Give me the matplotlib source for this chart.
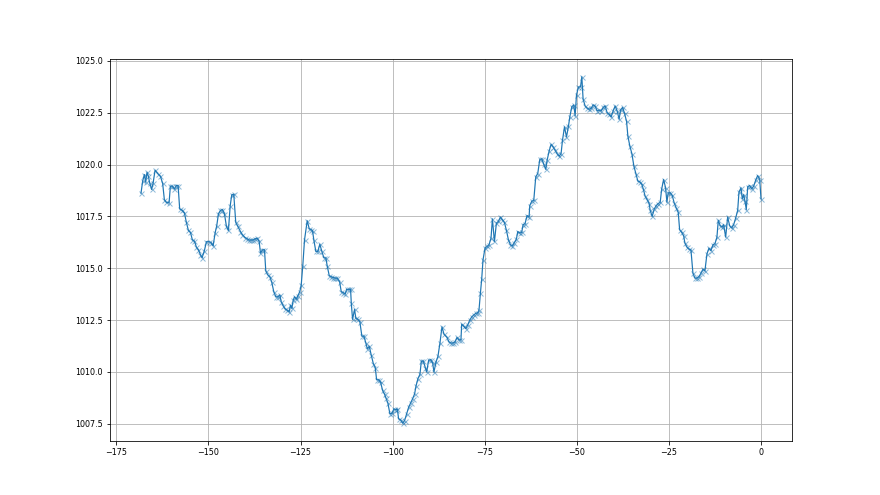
import matplotlib
matplotlib.use("Agg")
import matplotlib.pyplot as plt

hours = [
    -168.3, -167.85, -167.39, -167.04, -166.66, -166.30, -165.95, -165.41, -165.03, -164.48,
    -163.78, -163.04, -162.42, -161.96, -161.41, -160.68, -160.33, -159.78, -159.24, -158.70,
    -158.23, -157.80, -157.07, -156.52, -155.98, -155.43, -154.89, -154.35, -153.80, -153.26,
    -152.72, -152.17, -151.71, -151.09, -150.54, -149.81, -149.27, -148.72, -148.18, -147.74,
    -147.28, -146.74, -146.20, -145.65, -145.11, -144.57, -144.10, -143.67, -143.12, -142.58,
    -142.04, -141.30, -140.76, -140.03, -139.48, -138.94, -138.40, -137.85, -137.31, -136.77,
    -136.22, -135.87, -135.33, -134.78, -134.43, -133.89, -133.34, -132.80, -132.26, -131.71,
    -131.17, -130.62, -130.24, -129.70, -129.16, -128.61, -128.07, -127.72, -127.36, -126.98,
    -126.63, -126.09, -125.73, -125.19, -124.81, -124.38, -123.91, -123.18, -122.64, -122.09,
    -121.74, -121.39, -120.84, -120.30, -119.76, -119.21, -118.67, -118.12, -117.74, -117.20,
    -116.66, -116.11, -115.57, -115.03, -114.40, -113.94, -113.40, -112.85, -112.50, -111.96,
    -111.41, -111.22, -110.87, -110.33, -109.97, -109.43, -108.89, -108.34, -107.80, -107.26,
    -106.88, -106.33, -105.79, -105.24, -104.70, -104.35, -103.80, -103.26, -102.72, -102.17,
    -101.82, -101.28, -100.73, -100.19, -99.65, -99.10, -98.72, -98.37, -97.83, -97.28,
    -96.74, -96.20, -95.65, -95.11, -94.57, -94.02, -93.67, -93.13, -92.58, -92.20,
    -91.66, -91.11, -90.76, -90.22, -89.67, -89.13, -88.78, -88.23, -87.69, -87.15,
    -86.60, -86.06, -85.24, -84.70, -84.16, -83.61, -83.07, -82.53, -81.98, -81.44,
    -81.25, -80.71, -80.16, -79.62, -79.08, -78.53, -77.99, -77.45, -76.90, -76.55,
    -76.17, -75.82, -75.46, -74.92, -74.38, -73.83, -73.29, -72.91, -72.36, -71.82,
    -71.28, -70.73, -70.19, -69.65, -69.10, -68.56, -68.02, -67.47, -66.93, -66.39,
    -66.03, -65.49, -64.95, -64.59, -64.05, -63.51, -62.96, -62.77, -62.23, -61.68,
    -61.14, -60.60, -60.05, -59.51, -58.97, -58.42, -58.07, -57.53, -56.98, -56.44,
    -55.90, -55.35, -54.81, -54.27, -53.89, -53.34, -52.80, -52.26, -51.90, -51.36,
    -50.82, -50.46, -50.08, -49.54, -48.99, -48.64, -48.29, -47.74, -47.20, -46.66,
    -46.11, -45.57, -45.03, -44.48, -43.94, -43.40, -42.85, -42.31, -41.77, -41.22,
    -40.68, -40.14, -39.59, -39.05, -38.51, -38.13, -37.58, -37.04, -36.49, -36.14,
    -35.60, -35.05, -34.51, -33.97, -33.42, -32.88, -32.34, -31.98, -31.44, -30.90,
    -30.35, -30.08, -29.54, -28.99, -28.45, -27.91, -27.36, -26.98, -26.44, -25.90,
    -25.54, -25.19, -24.65, -24.10, -23.56, -23.02, -22.47, -22.09, -21.55, -21.01,
    -20.65, -20.11, -19.57, -19.02, -18.48, -17.93, -17.39, -16.85, -16.30, -15.76,
    -15.22, -14.67, -14.13, -13.59, -13.04, -12.50, -11.96, -11.60, -11.06, -10.52,
    -10.14, -9.59, -9.05, -8.51, -7.96, -7.42, -6.88, -6.33, -5.98, -5.43,
    -5.08, -4.70, -4.35, -3.99, -3.61, -3.07, -2.53, -1.98, -1.44, -0.90,
    -0.35, 0.0,
]

pressure = [
    1018.62, 1019.20, 1019.52, 1019.15, 1019.63, 1019.44, 1019.12, 1018.80, 1019.09, 1019.73,
    1019.57, 1019.44, 1019.09, 1018.31, 1018.18, 1018.15, 1018.96, 1018.96, 1018.83, 1018.99,
    1018.99, 1017.86, 1017.79, 1017.67, 1017.21, 1016.82, 1016.73, 1016.37, 1016.31, 1016.02,
    1015.89, 1015.65, 1015.51, 1015.85, 1016.28, 1016.28, 1016.24, 1016.08, 1016.70, 1017.05,
    1017.62, 1017.79, 1017.83, 1017.63, 1017.02, 1016.82, 1017.99, 1018.54, 1018.57, 1017.21,
    1017.02, 1016.77, 1016.61, 1016.48, 1016.42, 1016.36, 1016.36, 1016.36, 1016.42, 1016.45,
    1016.29, 1015.73, 1015.89, 1015.89, 1014.87, 1014.68, 1014.59, 1014.32, 1013.87, 1013.62,
    1013.62, 1013.71, 1013.38, 1013.19, 1013.03, 1012.98, 1012.90, 1013.22, 1013.06, 1013.46,
    1013.62, 1013.51, 1013.67, 1013.87, 1014.19, 1015.13, 1016.37, 1017.29, 1016.91, 1016.86,
    1016.81, 1016.37, 1015.81, 1015.81, 1016.16, 1015.81, 1015.51, 1015.49, 1015.10, 1014.64,
    1014.59, 1014.55, 1014.52, 1014.52, 1014.35, 1013.87, 1013.82, 1013.76, 1013.98, 1013.98,
    1013.98, 1013.33, 1012.53, 1013.01, 1012.58, 1012.53, 1012.41, 1011.72, 1011.72, 1011.39,
    1011.12, 1011.23, 1010.80, 1010.40, 1010.20, 1009.62, 1009.62, 1009.50, 1009.10, 1008.91,
    1008.75, 1008.49, 1007.97, 1008.00, 1008.21, 1008.17, 1008.21, 1007.73, 1007.68, 1007.52,
    1007.65, 1007.97, 1008.29, 1008.49, 1008.70, 1008.94, 1009.30, 1009.67, 1009.88, 1010.52,
    1010.52, 1010.20, 1009.99, 1010.56, 1010.59, 1010.43, 1009.99, 1010.47, 1010.75, 1011.39,
    1012.17, 1011.82, 1011.66, 1011.44, 1011.39, 1011.39, 1011.44, 1011.66, 1011.53, 1011.56,
    1012.30, 1012.20, 1012.09, 1012.25, 1012.49, 1012.65, 1012.74, 1012.82, 1012.85, 1012.98,
    1013.79, 1014.47, 1015.40, 1015.97, 1016.05, 1016.13, 1016.45, 1017.38, 1016.29, 1017.18,
    1017.26, 1017.47, 1017.34, 1017.21, 1016.82, 1016.37, 1016.13, 1016.08, 1016.24, 1016.41,
    1016.77, 1016.70, 1016.73, 1017.10, 1017.15, 1017.54, 1017.47, 1018.02, 1018.23, 1018.28,
    1019.41, 1019.57, 1020.25, 1020.28, 1020.01, 1019.77, 1020.20, 1020.64, 1020.98, 1020.85,
    1020.69, 1020.53, 1020.41, 1020.53, 1021.17, 1021.82, 1021.33, 1021.86, 1022.30, 1022.79,
    1022.88, 1022.35, 1023.37, 1023.75, 1023.75, 1024.24, 1023.16, 1022.83, 1022.72, 1022.67,
    1022.72, 1022.88, 1022.83, 1022.59, 1022.63, 1022.59, 1022.76, 1022.83, 1022.51, 1022.43,
    1022.30, 1022.59, 1022.83, 1022.59, 1022.19, 1022.63, 1022.76, 1022.47, 1022.08, 1021.38,
    1020.89, 1020.53, 1019.93, 1019.56, 1019.20, 1019.17, 1019.04, 1018.84, 1018.47, 1018.31,
    1018.12, 1017.79, 1017.50, 1017.86, 1018.02, 1018.12, 1018.18, 1018.80, 1019.28, 1018.88,
    1018.18, 1018.64, 1018.64, 1018.51, 1018.15, 1017.91, 1017.70, 1016.86, 1016.73, 1016.57,
    1016.21, 1016.02, 1015.92, 1015.89, 1014.76, 1014.52, 1014.52, 1014.59, 1014.76, 1014.95,
    1014.88, 1015.69, 1015.97, 1015.85, 1016.13, 1016.18, 1016.50, 1017.31, 1017.05, 1016.99,
    1017.10, 1016.50, 1017.47, 1017.05, 1016.94, 1017.10, 1017.42, 1017.79, 1018.67, 1018.88,
    1018.35, 1018.55, 1018.23, 1017.83, 1018.93, 1018.99, 1018.83, 1018.96, 1019.25, 1019.47,
    1019.28, 1018.35,
]

fig, ax = plt.subplots(figsize=(880 / 72, 495 / 72), dpi=72)
ax.plot(hours, pressure, color="#1f77b4", linewidth=1.2, zorder=3)
ax.plot(hours, pressure, linestyle="none", marker="x", markersize=5,
        color="#1f77b4", alpha=0.5, zorder=4)
ax.grid(True, color="#b0b0b0", linewidth=0.8)
ax.tick_params(labelsize=8)
fig.savefig("out.png", dpi=72)
